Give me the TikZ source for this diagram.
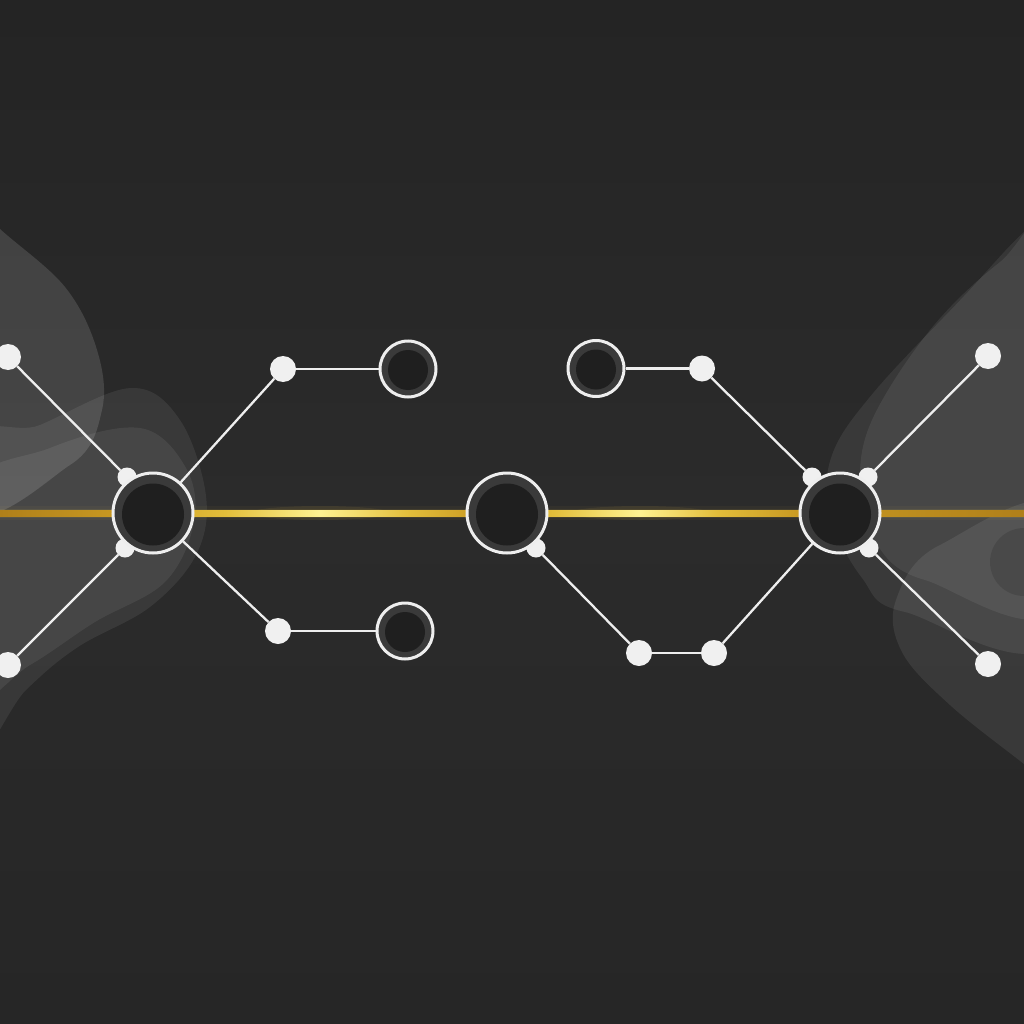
\documentclass[tikz,border=0pt]{standalone}
\usetikzlibrary{calc}
\definecolor{bgTop}{HTML}{242424}
\definecolor{bgMid}{HTML}{2B2B2B}
\definecolor{bgBot}{HTML}{262626}
\definecolor{dotwhite}{HTML}{F0F0F0}
\definecolor{ringwhite}{HTML}{EEEEEE}
\definecolor{ringgray}{HTML}{3A3A3A}
\definecolor{innerdark}{HTML}{1F1F1F}
\definecolor{gA}{HTML}{B0801A}
\definecolor{gB}{HTML}{C99A22}
\definecolor{gC}{HTML}{E3BE3A}
\definecolor{gH}{HTML}{FFF291}
\definecolor{glow}{HTML}{FFD84A}
\pgfdeclarehorizontalshading{goldshade}{100bp}{color(0bp)=(gA); color(25bp)=(gA); color(31bp)=(gB); color(36bp)=(gC); color(40.6bp)=(gH); color(45bp)=(gC); color(48.5bp)=(gB); color(52bp)=(gC); color(56.2bp)=(gH); color(60bp)=(gC); color(64bp)=(gB); color(75bp)=(gA); color(100bp)=(gA)}
\pgfdeclarelayer{back}
\pgfdeclarelayer{wires}
\pgfsetlayers{back,wires,main}
\tikzset{
  bignode/.style={circle, draw=ringwhite, line width=3pt, fill=ringgray, minimum size=80pt, inner sep=0pt,
    path picture={\fill[innerdark] ([yshift=-1.5pt]path picture bounding box.center) circle[radius=31pt];}},
  ringnode/.style={circle, draw=ringwhite, line width=3pt, fill=ringgray, minimum size=56pt, inner sep=0pt,
    path picture={\fill[innerdark] ([yshift=-1pt]path picture bounding box.center) circle[radius=20pt];}},
  enddot/.style={circle, fill=dotwhite, minimum size=26pt, inner sep=0pt},
  joindot/.style={circle, fill=dotwhite, minimum size=19pt, inner sep=0pt},
  wire/.style={draw=ringwhite, line width=2.3pt},
  blob/.style={fill=white, draw=none}
}
\begin{document}
\begin{tikzpicture}[x=1pt, y=-1pt]
\useasboundingbox (0,0) rectangle (1024,1024);

\begin{pgfonlayer}{back}
  \shade[top color=bgTop, bottom color=bgBot, middle color=bgMid] (0,0) rectangle (1024,1024);
  \begin{scope}
    \clip (0,0) rectangle (1024,1024);
    % left blobs
    \fill[blob, opacity=0.13] plot[smooth cycle, tension=0.6] coordinates {(-40,190) (0,229) (65,287) (97,350) (102,410) (70,465) (-40,500)};
    \fill[blob, opacity=0.07] plot[smooth cycle, tension=0.6] coordinates {(-40,460) (40,425) (131,388) (180,420) (206,496) (196,555) (150,607) (78,647) (26,690) (-40,760)};
    \fill[blob, opacity=0.07] plot[smooth cycle, tension=0.6] coordinates {(-40,500) (50,448) (140,428) (186,468) (194,522) (165,582) (95,622) (30,665) (-40,700)};
    % right blobs
    \fill[blob, opacity=0.07] plot[smooth cycle, tension=0.6] coordinates {(1070,200) (1024,232) (964,296) (874,392) (832,455) (830,515) (862,578) (905,612) (1070,625)};
    \fill[blob, opacity=0.07] plot[smooth cycle, tension=0.6] coordinates {(1070,220) (1000,262) (930,330) (872,420) (860,485) (874,540) (925,580) (1070,595)};
    \fill[blob, opacity=0.08] plot[smooth cycle, tension=0.6] coordinates {(1070,515) (940,545) (896,600) (902,652) (950,705) (1024,764) (1070,800)};
    \fill[black, opacity=0.12] (1024,562) circle[radius=34];
  \end{scope}
  % gold line and glow
  \fill[glow, opacity=0.04] (0,506) rectangle (1024,520);
  \fill[glow, opacity=0.08] (0,508.5) rectangle (1024,517.5);
  \fill[glow, opacity=0.07] (320,513) ellipse[x radius=70, y radius=7];
  \fill[glow, opacity=0.07] (640,513) ellipse[x radius=70, y radius=7];
  \shade[shading=goldshade] (0,510) rectangle (1024,516.5);
\end{pgfonlayer}

% end dots
\node[enddot] (d1) at (8,357) {};
\node[enddot] (d2) at (8,665) {};
\node[enddot] (d3) at (283,369) {};
\node[enddot] (d4) at (278,631) {};
\node[enddot] (d5) at (702,368.5) {};
\node[enddot] (d6) at (988,356) {};
\node[enddot] (d7) at (988,664) {};
\node[enddot] (d8) at (639,653) {};
\node[enddot] (d9) at (714,653) {};

% join dots on big circles
\node[joindot] (a1) at (127,477) {};
\node[joindot] (a2) at (125,548) {};
\node[joindot] (b1) at (536,548) {};
\node[joindot] (c1) at (812,477) {};
\node[joindot] (c2) at (868,477) {};
\node[joindot] (c3) at (869,548) {};

% big circles
\node[bignode] (A) at (153,513) {};
\node[bignode] (B) at (507,513) {};
\node[bignode] (C) at (840,513) {};

% ring nodes
\node[ringnode] (r1) at (408,369) {};
\node[ringnode] (r2) at (405,631) {};
\node[ringnode] (r3) at (596,368.5) {};

\begin{pgfonlayer}{wires}
  \draw[wire] (d1) -- (a1);
  \draw[wire] (a2) -- (d2);
  \draw[wire] (A) -- (d3);
  \draw[wire] (d3) -- (r1);
  \draw[wire] (A) -- (d4);
  \draw[wire] (d4) -- (r2);
  \draw[wire] (r3) -- (d5);
  \draw[wire] (d5) -- (c1);
  \draw[wire] (c2) -- (d6);
  \draw[wire] (c3) -- (d7);
  \draw[wire] (b1) -- (d8);
  \draw[wire] (d8) -- (d9);
  \draw[wire] (d9) -- (C);
\end{pgfonlayer}
\end{tikzpicture}
\end{document}
